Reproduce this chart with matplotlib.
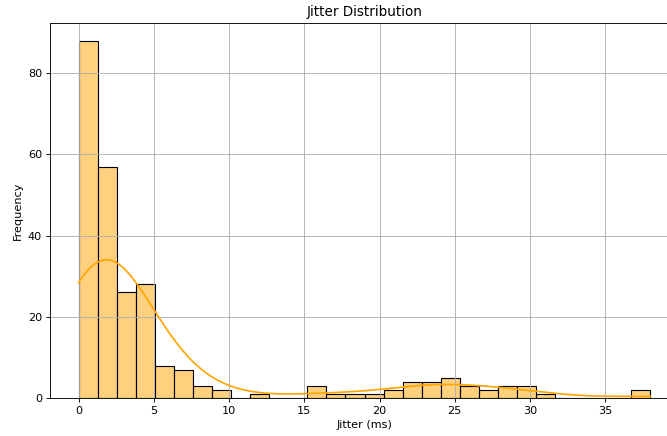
import numpy as np
import matplotlib
matplotlib.use("Agg")
import matplotlib.pyplot as plt
import seaborn as sns

# histogram: 30 bins between 0 and 38 ms
bin_edges = np.linspace(0, 38.0, 31)
bin_counts = [88, 57, 26, 28, 8, 7, 3, 2, 0, 1,
              0, 0, 3, 1, 1, 1, 2, 4, 4, 5,
              3, 2, 3, 3, 1, 0, 0, 0, 0, 2]

# rebuild the jitter samples from the bin centres
bin_centers = (bin_edges[:-1] + bin_edges[1:]) / 2
jitter = np.repeat(bin_centers, bin_counts)

DPI = 81
fig = plt.figure(figsize=(667 / DPI, 436 / DPI), dpi=DPI)
ax = fig.add_axes([50 / 667, 38 / 436, 629 / 667, 375 / 436])

# kde curve spans the full 0-38 range like the original
sns.histplot(jitter, bins=bin_edges, kde=True, color='orange', ax=ax,
             kde_kws=dict(cut=3, clip=(bin_edges[0], bin_edges[-1])))
ax.set_title("Jitter Distribution")
ax.set_xlabel("Jitter (ms)")
ax.set_ylabel("Frequency")
ax.grid(True)

fig.savefig("out.png", dpi=DPI)
